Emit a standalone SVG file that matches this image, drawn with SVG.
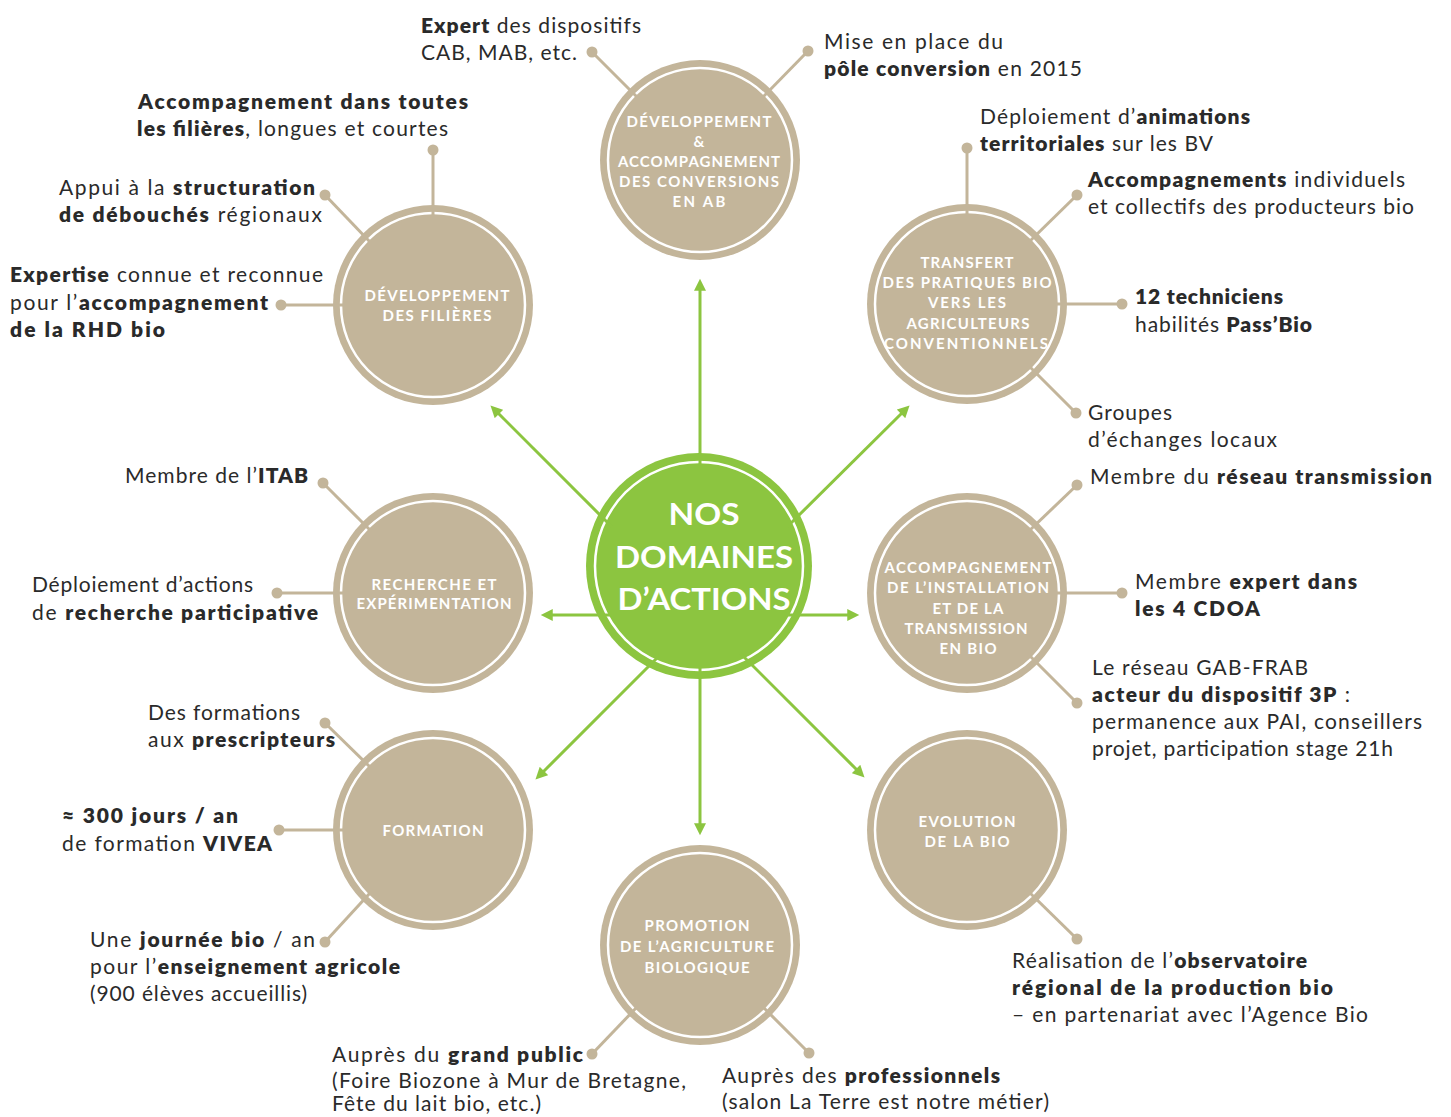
<svg xmlns="http://www.w3.org/2000/svg" width="1451" height="1117" viewBox="0 0 1451 1117">
<defs>
<style>
.t{font-family:Lato,"Open Sans","Liberation Sans",sans-serif;font-size:21px;fill:#2a2a2a}
.b{font-weight:800}
.lbl{font-family:Lato,"Open Sans","Liberation Sans",sans-serif;font-size:15px;font-weight:700;fill:#fff;text-anchor:middle}
.big{font-family:Lato,"Open Sans","Liberation Sans",sans-serif;font-size:31px;font-weight:700;fill:#fff;text-anchor:middle}
.bg{fill:#c3b59a}
.ring{fill:none;stroke:#fff;stroke-width:2.5}
.conn{stroke:#c3b59a;stroke-width:3;fill:none}
.dot{fill:#c3b59a}
.arr{stroke:#8cc540;stroke-width:3;fill:none;marker-end:url(#ah)}
</style>
<marker id="ah" viewBox="0 0 10 10" markerUnits="userSpaceOnUse" markerWidth="13" markerHeight="12" refX="2.3" refY="5" orient="auto">
<path d="M0,0 L10,5 L0,10 z" fill="#8cc540"/>
</marker>
</defs>
<rect width="1451" height="1117" fill="#fff"/>

<g id="center">
<circle cx="699" cy="566" r="113" fill="#8cc540"/>
<circle cx="699" cy="566" r="104" class="ring"/>
<text class="big" x="704" y="525" textLength="71" lengthAdjust="spacingAndGlyphs">NOS</text>
<text class="big" x="704" y="568" textLength="178" lengthAdjust="spacingAndGlyphs">DOMAINES</text>
<text class="big" x="704" y="610" textLength="173" lengthAdjust="spacingAndGlyphs">D’ACTIONS</text>
</g>

<g id="n-conversions">
<circle cx="700" cy="160" r="100" class="bg"/>
<circle cx="700" cy="160" r="92" class="ring"/>
<text class="lbl" x="699" y="127" textLength="145">DÉVELOPPEMENT</text>
<text class="lbl" x="699" y="147">&amp;</text>
<text class="lbl" x="699" y="167" textLength="162">ACCOMPAGNEMENT</text>
<text class="lbl" x="699" y="187" textLength="160">DES CONVERSIONS</text>
<text class="lbl" x="699" y="207" textLength="53">EN AB</text>
</g>

<g id="n-filieres">
<circle cx="433" cy="305" r="100" class="bg"/>
<circle cx="433" cy="305" r="92" class="ring"/>
<text class="lbl" x="437" y="301" textLength="145">DÉVELOPPEMENT</text>
<text class="lbl" x="437" y="321" textLength="109">DES FILIÈRES</text>
</g>

<g id="n-transfert">
<circle cx="967" cy="304" r="100" class="bg"/>
<circle cx="967" cy="304" r="92" class="ring"/>
<text class="lbl" x="967" y="268" textLength="93">TRANSFERT</text>
<text class="lbl" x="967" y="288" textLength="169">DES PRATIQUES BIO</text>
<text class="lbl" x="967" y="308" textLength="78">VERS LES</text>
<text class="lbl" x="968" y="329" textLength="123">AGRICULTEURS</text>
<text class="lbl" x="966" y="349" textLength="164">CONVENTIONNELS</text>
</g>

<g id="n-recherche">
<circle cx="433" cy="593" r="100" class="bg"/>
<circle cx="433" cy="593" r="92" class="ring"/>
<text class="lbl" x="434" y="590" textLength="125">RECHERCHE ET</text>
<text class="lbl" x="434" y="609" textLength="155">EXPÉRIMENTATION</text>
</g>

<g id="n-installation">
<circle cx="967" cy="593" r="100" class="bg"/>
<circle cx="967" cy="593" r="92" class="ring"/>
<text class="lbl" x="968" y="573" textLength="167">ACCOMPAGNEMENT</text>
<text class="lbl" x="968" y="593" textLength="162">DE L’INSTALLATION</text>
<text class="lbl" x="968" y="614" textLength="71">ET DE LA</text>
<text class="lbl" x="966" y="634" textLength="123">TRANSMISSION</text>
<text class="lbl" x="968" y="654" textLength="57">EN BIO</text>
</g>

<g id="n-formation">
<circle cx="433" cy="830" r="100" class="bg"/>
<circle cx="433" cy="830" r="92" class="ring"/>
<text class="lbl" x="433" y="836" textLength="101">FORMATION</text>
</g>

<g id="n-evolution">
<circle cx="967" cy="830" r="100" class="bg"/>
<circle cx="967" cy="830" r="92" class="ring"/>
<text class="lbl" x="967" y="827" textLength="97">EVOLUTION</text>
<text class="lbl" x="967" y="847" textLength="85">DE LA BIO</text>
</g>

<g id="n-promotion">
<circle cx="700" cy="945" r="100" class="bg"/>
<circle cx="700" cy="945" r="92" class="ring"/>
<text class="lbl" x="697" y="931" textLength="105">PROMOTION</text>
<text class="lbl" x="697" y="952" textLength="154">DE L’AGRICULTURE</text>
<text class="lbl" x="697" y="973" textLength="105">BIOLOGIQUE</text>
</g>

<g id="connectors">
<line class="arr" x1="700" y1="470" x2="700" y2="288"/>
<line class="arr" x1="700" y1="662" x2="700" y2="826"/>
<line class="arr" x1="612" y1="615" x2="550" y2="615"/>
<line class="arr" x1="786" y1="615" x2="850" y2="615"/>
<line class="arr" x1="612" y1="527" x2="497" y2="412"/>
<line class="arr" x1="787" y1="527" x2="903" y2="412"/>
<line class="arr" x1="660" y1="655" x2="542" y2="773"/>
<line class="arr" x1="740" y1="653" x2="858" y2="771"/>

<line class="conn" x1="592" y1="52" x2="637" y2="97"/>
<line class="conn" x1="808" y1="51" x2="763" y2="97"/>
<line class="conn" x1="433" y1="150" x2="433" y2="216"/>
<line class="conn" x1="325" y1="195" x2="370" y2="242"/>
<line class="conn" x1="281" y1="305" x2="344" y2="305"/>
<line class="conn" x1="967" y1="148" x2="967" y2="215"/>
<line class="conn" x1="1077" y1="195" x2="1030" y2="241"/>
<line class="conn" x1="1122" y1="304" x2="1056" y2="304"/>
<line class="conn" x1="1076" y1="413" x2="1030" y2="367"/>
<line class="conn" x1="323" y1="483" x2="370" y2="530"/>
<line class="conn" x1="277" y1="593" x2="344" y2="593"/>
<line class="conn" x1="1077" y1="485" x2="1030" y2="530"/>
<line class="conn" x1="1122" y1="593" x2="1056" y2="593"/>
<line class="conn" x1="1077" y1="703" x2="1030" y2="656"/>
<line class="conn" x1="325" y1="723" x2="370" y2="767"/>
<line class="conn" x1="279" y1="830" x2="344" y2="830"/>
<line class="conn" x1="325" y1="942" x2="370" y2="893"/>
<line class="conn" x1="1077" y1="939" x2="1030" y2="893"/>
<line class="conn" x1="592" y1="1054" x2="637" y2="1007"/>
<line class="conn" x1="809" y1="1053" x2="763" y2="1007"/>

<circle class="dot" cx="592" cy="52" r="5.5"/>
<circle class="dot" cx="808" cy="51" r="5.5"/>
<circle class="dot" cx="433" cy="150" r="5.5"/>
<circle class="dot" cx="325" cy="195" r="5.5"/>
<circle class="dot" cx="281" cy="305" r="5.5"/>
<circle class="dot" cx="967" cy="148" r="5.5"/>
<circle class="dot" cx="1077" cy="195" r="5.5"/>
<circle class="dot" cx="1122" cy="304" r="5.5"/>
<circle class="dot" cx="1076" cy="413" r="5.5"/>
<circle class="dot" cx="323" cy="483" r="5.5"/>
<circle class="dot" cx="277" cy="593" r="5.5"/>
<circle class="dot" cx="1077" cy="485" r="5.5"/>
<circle class="dot" cx="1122" cy="593" r="5.5"/>
<circle class="dot" cx="1077" cy="703" r="5.5"/>
<circle class="dot" cx="325" cy="723" r="5.5"/>
<circle class="dot" cx="279" cy="830" r="5.5"/>
<circle class="dot" cx="325" cy="942" r="5.5"/>
<circle class="dot" cx="1077" cy="939" r="5.5"/>
<circle class="dot" cx="592" cy="1054" r="5.5"/>
<circle class="dot" cx="809" cy="1053" r="5.5"/>
</g>

<g id="txt-expert">
<text class="t" x="421" y="33" textLength="220"><tspan class="b">Expert</tspan> des dispositifs</text>
<text class="t" x="421" y="60" textLength="156">CAB, MAB, etc.</text>
</g>
<g id="txt-pole">
<text class="t" x="824" y="49" textLength="179">Mise en place du</text>
<text class="t" x="824" y="76" textLength="258"><tspan class="b">pôle conversion</tspan> en 2015</text>
</g>
<g id="txt-filieres">
<text class="t" x="138" y="109" textLength="330"><tspan class="b">Accompagnement dans toutes</tspan></text>
<text class="t" x="137" y="136" textLength="311"><tspan class="b">les filières</tspan>, longues et courtes</text>
</g>
<g id="txt-appui">
<text class="t" x="59" y="195" textLength="256">Appui à la <tspan class="b">structuration</tspan></text>
<text class="t" x="59" y="222" textLength="263"><tspan class="b">de débouchés</tspan> régionaux</text>
</g>
<g id="txt-expertise">
<text class="t" x="10" y="282" textLength="313"><tspan class="b">Expertise</tspan> connue et reconnue</text>
<text class="t" x="10" y="310" textLength="258">pour l’<tspan class="b">accompagnement</tspan></text>
<text class="t" x="10" y="337" textLength="155"><tspan class="b">de la RHD bio</tspan></text>
</g>
<g id="txt-animations">
<text class="t" x="980" y="124" textLength="270">Déploiement d’<tspan class="b">animations</tspan></text>
<text class="t" x="980" y="151" textLength="233"><tspan class="b">territoriales</tspan> sur les BV</text>
</g>
<g id="txt-accomp">
<text class="t" x="1088" y="187" textLength="317"><tspan class="b">Accompagnements</tspan> individuels</text>
<text class="t" x="1088" y="214" textLength="326">et collectifs des producteurs bio</text>
</g>
<g id="txt-techniciens">
<text class="t" x="1135" y="304" textLength="148"><tspan class="b">12 techniciens</tspan></text>
<text class="t" x="1135" y="332" textLength="177">habilités <tspan class="b">Pass’Bio</tspan></text>
</g>
<g id="txt-groupes">
<text class="t" x="1088" y="420" textLength="84">Groupes</text>
<text class="t" x="1088" y="447" textLength="189">d’échanges locaux</text>
</g>
<g id="txt-itab">
<text class="t" x="125" y="483" textLength="183">Membre de l’<tspan class="b">ITAB</tspan></text>
</g>
<g id="txt-recherche">
<text class="t" x="32" y="592" textLength="221">Déploiement d’actions</text>
<text class="t" x="32" y="620" textLength="286">de <tspan class="b">recherche participative</tspan></text>
</g>
<g id="txt-reseau">
<text class="t" x="1090" y="484" textLength="342">Membre du <tspan class="b">réseau transmission</tspan></text>
</g>
<g id="txt-cdoa">
<text class="t" x="1135" y="589" textLength="222">Membre <tspan class="b">expert dans</tspan></text>
<text class="t" x="1135" y="616" textLength="125"><tspan class="b">les 4 CDOA</tspan></text>
</g>
<g id="txt-3p">
<text class="t" x="1092" y="675" textLength="216">Le réseau GAB-FRAB</text>
<text class="t" x="1092" y="702" textLength="258"><tspan class="b">acteur du dispositif 3P</tspan> :</text>
<text class="t" x="1092" y="729" textLength="330">permanence aux PAI, conseillers</text>
<text class="t" x="1092" y="756" textLength="301">projet, participation stage 21h</text>
</g>
<g id="txt-prescripteurs">
<text class="t" x="148" y="720" textLength="152">Des formations</text>
<text class="t" x="148" y="747" textLength="187">aux <tspan class="b">prescripteurs</tspan></text>
</g>
<g id="txt-vivea">
<text class="t" x="62" y="823" textLength="176"><tspan class="b">≈ 300 jours  / an</tspan></text>
<text class="t" x="62" y="851" textLength="210">de formation <tspan class="b">VIVEA</tspan></text>
</g>
<g id="txt-journee">
<text class="t" x="90" y="947" textLength="225">Une <tspan class="b">journée bio</tspan> / an</text>
<text class="t" x="90" y="974" textLength="310">pour l’<tspan class="b">enseignement agricole</tspan></text>
<text class="t" x="90" y="1001" textLength="217">(900 élèves accueillis)</text>
</g>
<g id="txt-observatoire">
<text class="t" x="1012" y="968" textLength="295">Réalisation de l’<tspan class="b">observatoire</tspan></text>
<text class="t" x="1012" y="995" textLength="321"><tspan class="b">régional de la production bio</tspan></text>
<text class="t" x="1012" y="1022" textLength="356">– en partenariat avec l’Agence Bio</text>
</g>
<g id="txt-public">
<text class="t" x="332" y="1062" textLength="251">Auprès du <tspan class="b">grand public</tspan></text>
<text class="t" x="332" y="1088" textLength="354">(Foire Biozone à Mur de Bretagne,</text>
<text class="t" x="332" y="1111" textLength="209">Fête du lait bio, etc.)</text>
</g>
<g id="txt-pros">
<text class="t" x="722" y="1083" textLength="278">Auprès des <tspan class="b">professionnels</tspan></text>
<text class="t" x="722" y="1109" textLength="327">(salon La Terre est notre métier)</text>
</g>
</svg>
